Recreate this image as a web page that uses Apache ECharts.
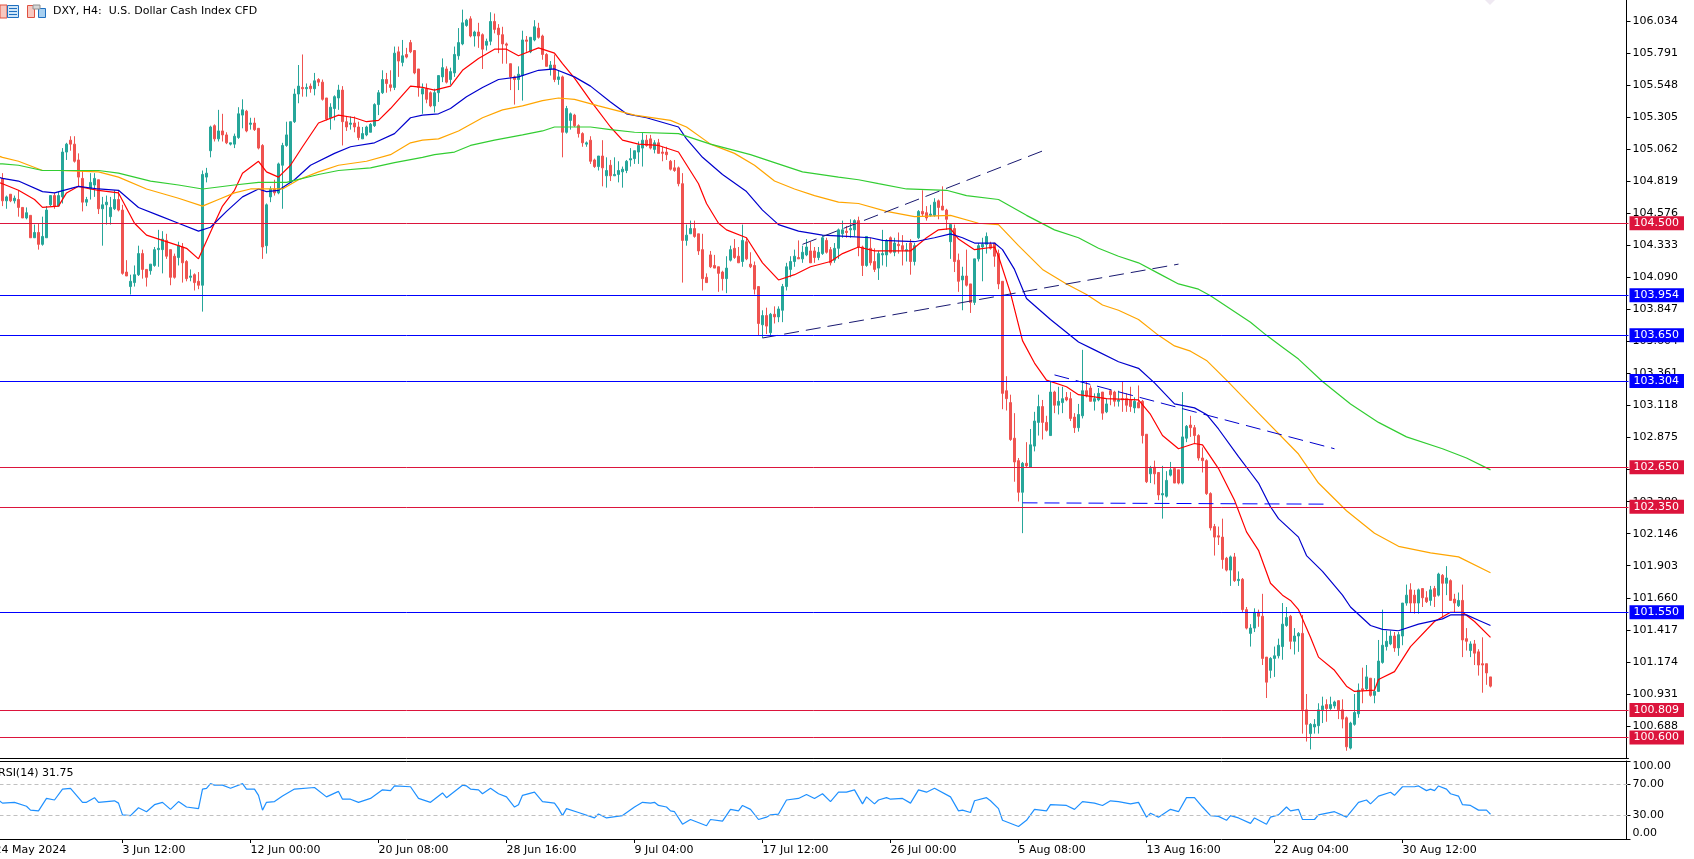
<!DOCTYPE html>
<html><head><meta charset="utf-8"><style>html,body{margin:0;padding:0;background:#fff;overflow:hidden}#c{width:1694px;height:859px}</style>
<script src="https://cdn.jsdelivr.net/npm/echarts@6/dist/echarts.min.js"></script></head><body><div id="c"></div><script>
// [open, close, low, high]
const candlesA=[[104.84,104.67,104.63,104.88],[104.67,104.70,104.61,104.71],[104.72,104.67,104.66,104.72],[104.67,104.69,104.65,104.71],[104.68,104.62,104.55,104.75],[104.62,104.54,104.54,104.62],[104.54,104.58,104.53,104.62],[104.56,104.39,104.39,104.56],[104.39,104.43,104.39,104.49],[104.43,104.34,104.30,104.50],[104.34,104.40,104.33,104.55],[104.39,104.60,104.39,104.63],[104.64,104.71,104.63,104.71],[104.71,104.63,104.61,104.73],[104.63,104.71,104.63,104.74],[104.70,105.04,104.65,105.07],[105.04,105.10,104.98,105.11],[105.13,105.10,105.05,105.16],[105.10,104.97,104.96,105.16],[104.98,104.85,104.78,105.03],[104.84,104.66,104.59,104.90],[104.66,104.68,104.63,104.70],[104.76,104.81,104.68,104.88],[104.79,104.84,104.70,104.88],[104.83,104.61,104.57,104.83],[104.61,104.64,104.33,104.70],[104.64,104.66,104.49,104.71],[104.55,104.62,104.49,104.70],[104.61,104.68,104.60,104.75],[104.68,104.60,104.59,104.75],[104.60,104.12,104.11,104.64],[104.13,104.10,104.10,104.22],[104.02,104.06,103.96,104.11],[104.05,104.11,104.02,104.18],[104.11,104.27,104.10,104.33],[104.27,104.15,104.08,104.30],[104.15,104.09,104.02,104.15],[104.14,104.19,104.11,104.19],[104.18,104.30,104.17,104.32],[104.30,104.31,104.17,104.45],[104.30,104.38,104.12,104.44],[104.37,104.25,104.23,104.42],[104.30,104.09,104.03,104.30],[104.25,104.09,104.08,104.27],[104.24,104.33,104.18,104.36],[104.32,104.20,104.05,104.35],[104.21,104.08,104.06,104.22],[104.09,104.10,104.06,104.15],[104.11,104.05,103.99,104.12],[104.06,104.03,104.00,104.13]];
const candlesB=[[104.03,104.87,103.83,104.90],[104.85,104.88,104.81,104.92],[105.05,105.23,105.00,105.24],[105.24,105.14,105.12,105.25],[105.14,105.20,105.12,105.36],[105.20,105.17,105.12,105.33],[105.17,105.11,105.10,105.19],[105.10,105.11,105.09,105.11],[105.10,105.16,105.07,105.18],[105.15,105.33,105.14,105.38],[105.32,105.36,105.22,105.44],[105.35,105.20,105.19,105.36],[105.25,105.26,105.21,105.30],[105.26,105.21,105.20,105.30],[105.22,105.07,105.06,105.22],[105.09,104.32,104.23,105.10],[104.33,104.64,104.27,104.65],[104.70,104.76,104.66,104.78],[104.76,104.73,104.71,104.83],[104.73,104.95,104.72,104.96],[104.94,105.09,104.61,105.11],[105.09,105.17,105.08,105.27],[104.81,105.27,104.81,105.27],[105.27,105.48,105.26,105.52],[105.48,105.54,105.41,105.70],[105.53,105.52,105.46,105.78],[105.52,105.53,105.46,105.56],[105.54,105.52,105.49,105.56],[105.52,105.58,105.47,105.64],[105.59,105.57,105.54,105.60],[105.57,105.44,105.43,105.59],[105.45,105.29,105.28,105.45],[105.30,105.38,105.21,105.41],[105.37,105.46,105.28,105.47],[105.45,105.51,105.36,105.55],[105.51,105.27,105.09,105.54],[105.27,105.23,105.20,105.31],[105.25,105.26,105.21,105.31],[105.26,105.23,105.19,105.31],[105.23,105.15,105.13,105.27],[105.14,105.18,105.14,105.23],[105.17,105.23,105.16,105.24],[105.19,105.25,105.19,105.26],[105.24,105.40,105.23,105.41],[105.40,105.49,105.32,105.51],[105.49,105.59,105.48,105.66],[105.59,105.56,105.49,105.64],[105.55,105.53,105.50,105.66],[105.53,105.79,105.51,105.84],[105.80,105.73,105.61,105.84]];
const candlesC=[[105.72,105.77,105.69,105.89],[105.78,105.76,105.75,105.83],[105.87,105.80,105.79,105.89],[105.81,105.64,105.63,105.81],[105.67,105.53,105.46,105.67],[105.48,105.52,105.33,105.56],[105.52,105.44,105.41,105.56],[105.49,105.39,105.38,105.50],[105.39,105.49,105.34,105.52],[105.49,105.62,105.42,105.62],[105.61,105.68,105.57,105.75],[105.67,105.57,105.56,105.69],[105.59,105.65,105.55,105.68],[105.64,105.78,105.61,105.84],[105.77,105.87,105.74,105.98],[105.86,106.02,105.85,106.12],[106.00,106.04,105.99,106.05],[106.05,105.92,105.91,106.07],[105.92,105.95,105.84,105.96],[105.95,105.92,105.83,106.02],[105.93,105.82,105.67,105.94],[105.85,105.88,105.81,105.90],[105.88,106.03,105.85,106.10],[106.03,105.97,105.94,106.09],[105.98,105.93,105.79,106.01],[105.93,105.86,105.71,105.99],[105.86,105.85,105.71,105.87],[105.71,105.61,105.51,105.71],[105.61,105.59,105.40,105.62],[105.59,105.63,105.51,105.69],[105.62,105.89,105.43,105.96],[105.89,105.88,105.80,105.92],[105.80,105.91,105.79,105.91],[105.89,105.99,105.88,106.04],[105.98,105.91,105.90,106.02],[105.92,105.78,105.74,105.93],[105.78,105.69,105.69,105.79],[105.67,105.70,105.62,105.73],[105.70,105.59,105.57,105.78],[105.59,105.61,105.55,105.66],[105.61,105.19,105.00,105.62],[105.19,105.37,105.18,105.39],[105.28,105.33,105.21,105.34],[105.32,105.24,105.23,105.33],[105.24,105.18,105.15,105.25],[105.18,105.11,105.08,105.19],[105.10,105.11,105.08,105.12],[105.13,104.97,104.95,105.16],[104.98,104.93,104.92,104.99],[104.93,105.01,104.90,105.01]];
const candlesD=[[105.01,104.92,104.78,105.13],[104.86,104.90,104.77,105.00],[104.94,104.86,104.82,104.98],[104.86,104.87,104.86,105.00],[104.87,104.90,104.81,104.97],[104.89,104.91,104.77,104.93],[104.90,104.97,104.88,104.98],[104.98,104.99,104.93,105.07],[104.99,105.05,104.95,105.05],[105.04,105.09,104.95,105.12],[105.07,105.13,104.93,105.19],[105.13,105.09,105.08,105.17],[105.14,105.07,105.06,105.17],[105.06,105.11,105.03,105.13],[105.11,105.03,105.03,105.14],[105.04,105.03,104.97,105.08],[105.04,105.02,104.98,105.08],[104.97,104.91,104.90,104.98],[104.92,104.90,104.89,104.98],[104.92,104.80,104.78,104.93],[104.80,104.37,104.05,104.88],[104.37,104.41,104.33,104.49],[104.42,104.46,104.42,104.52],[104.46,104.40,104.39,104.52],[104.42,104.29,104.26,104.42],[104.30,104.08,103.99,104.42],[104.09,104.05,104.05,104.12],[104.26,104.17,104.16,104.29],[104.18,104.16,104.16,104.26],[104.17,104.12,103.98,104.17],[104.13,104.08,103.99,104.14],[104.08,104.16,103.97,104.25],[104.22,104.30,104.21,104.33],[104.31,104.24,104.23,104.38],[104.25,104.20,104.20,104.32],[104.21,104.37,104.17,104.49],[104.36,104.23,104.22,104.39],[104.19,104.17,104.16,104.28],[104.18,104.00,103.96,104.21],[104.02,103.74,103.65,104.02],[103.73,103.80,103.63,103.84],[103.80,103.72,103.66,103.86],[103.67,103.81,103.64,103.82],[103.81,103.79,103.74,103.87],[103.79,103.85,103.75,103.87],[103.84,104.02,103.75,104.04],[104.02,104.17,103.99,104.20],[104.15,104.21,104.09,104.25],[104.21,104.25,104.17,104.30],[104.24,104.23,104.23,104.37]];
const candlesE=[[104.23,104.28,104.20,104.33],[104.26,104.32,104.25,104.38],[104.29,104.20,104.20,104.36],[104.29,104.24,104.20,104.32],[104.24,104.28,104.22,104.32],[104.27,104.39,104.26,104.41],[104.37,104.28,104.27,104.39],[104.30,104.20,104.18,104.32],[104.22,104.31,104.20,104.35],[104.31,104.45,104.23,104.46],[104.42,104.45,104.39,104.52],[104.44,104.43,104.39,104.48],[104.45,104.46,104.39,104.53],[104.45,104.52,104.40,104.53],[104.52,104.32,104.25,104.55],[104.32,104.18,104.10,104.33],[104.18,104.40,104.17,104.40],[104.31,104.20,104.18,104.39],[104.21,104.15,104.13,104.31],[104.16,104.27,104.07,104.29],[104.26,104.27,104.18,104.45],[104.26,104.37,104.17,104.38],[104.39,104.28,104.27,104.40],[104.28,104.35,104.25,104.39],[104.34,104.33,104.27,104.43],[104.33,104.30,104.18,104.41],[104.29,104.30,104.21,104.35],[104.35,104.21,104.11,104.38],[104.21,104.33,104.18,104.35],[104.39,104.59,104.38,104.60],[104.59,104.57,104.55,104.75],[104.58,104.54,104.52,104.63],[104.56,104.57,104.55,104.64],[104.56,104.66,104.55,104.69],[104.67,104.62,104.53,104.68],[104.63,104.60,104.60,104.78],[104.60,104.53,104.45,104.61],[104.36,104.49,104.23,104.49],[104.46,104.21,104.13,104.49],[104.22,104.06,103.98,104.27],[104.07,104.10,103.84,104.17],[104.10,104.03,104.02,104.30],[104.04,103.90,103.82,104.04],[103.90,104.23,103.88,104.23],[104.23,104.33,104.21,104.35],[104.32,104.34,104.06,104.39],[104.34,104.40,104.27,104.43],[104.34,104.31,104.30,104.36],[104.35,104.25,104.17,104.35],[104.27,104.04,104.00,104.30]];
const candlesF=[[104.06,103.21,103.09,104.06],[103.23,103.17,103.08,103.34],[103.14,102.86,102.85,103.20],[102.87,102.69,102.54,103.06],[102.70,102.46,102.39,102.72],[102.46,102.68,102.15,102.69],[102.68,102.66,102.65,102.84],[102.65,102.82,102.65,102.94],[102.81,103.00,102.77,103.07],[102.99,103.11,102.89,103.20],[103.11,102.99,102.86,103.16],[102.99,102.93,102.92,103.04],[102.89,103.22,102.89,103.30],[103.22,103.12,103.06,103.23],[103.12,103.15,103.05,103.26],[103.14,103.17,103.06,103.26],[103.18,103.16,103.15,103.22],[103.17,103.02,103.00,103.22],[103.03,102.95,102.91,103.06],[102.95,103.05,102.92,103.13],[103.04,103.23,103.02,103.54],[103.23,103.19,103.18,103.30],[103.25,103.15,103.15,103.27],[103.15,103.17,103.08,103.21],[103.16,103.21,103.15,103.25],[103.22,103.06,103.01,103.22],[103.07,103.13,103.06,103.17],[103.23,103.20,103.12,103.24],[103.22,103.15,103.11,103.23],[103.15,103.16,103.11,103.23],[103.17,103.16,103.07,103.30],[103.17,103.12,103.07,103.21],[103.16,103.11,103.07,103.26],[103.10,103.15,103.06,103.18],[103.14,103.10,103.10,103.27],[103.15,102.89,102.83,103.16],[102.90,102.54,102.53,102.90],[102.60,102.64,102.53,102.66],[102.65,102.60,102.52,102.70],[102.61,102.44,102.40,102.61],[102.44,102.45,102.26,102.66],[102.43,102.55,102.42,102.62],[102.59,102.63,102.58,102.69],[102.64,102.53,102.53,102.64],[102.63,102.53,102.52,102.63],[102.53,102.88,102.52,103.22],[102.87,102.96,102.84,102.97],[102.97,102.95,102.88,103.04],[102.95,102.89,102.83,102.97],[102.89,102.72,102.70,102.90]];
const candlesG=[[102.72,102.70,102.61,102.80],[102.70,102.45,102.44,102.71],[102.45,102.19,102.17,102.46],[102.20,102.12,101.98,102.22],[102.13,102.12,102.06,102.20],[102.12,101.95,101.88,102.26],[101.96,101.87,101.86,101.97],[101.87,101.97,101.75,101.98],[101.97,101.79,101.78,102.00],[101.79,101.80,101.75,101.86],[101.80,101.57,101.55,101.81],[101.57,101.43,101.42,101.59],[101.39,101.43,101.29,101.46],[101.43,101.55,101.40,101.58],[101.55,101.52,101.44,101.57],[101.52,101.20,101.15,101.69],[101.21,101.02,100.90,101.21],[101.11,101.20,101.05,101.21],[101.20,101.22,101.06,101.29],[101.22,101.30,101.20,101.35],[101.29,101.46,101.19,101.62],[101.45,101.51,101.44,101.59],[101.52,101.33,101.27,101.53],[101.33,101.37,101.23,101.43],[101.37,101.39,101.25,101.40],[101.39,100.81,100.63,101.53],[100.81,100.70,100.57,100.93],[100.63,100.70,100.51,100.71],[100.68,100.70,100.63,100.74],[100.69,100.81,100.63,100.86],[100.81,100.84,100.71,100.91],[100.85,100.82,100.72,100.89],[100.82,100.85,100.81,100.91],[100.84,100.87,100.82,100.88],[100.88,100.81,100.74,100.88],[100.81,100.74,100.67,100.89],[100.75,100.53,100.50,100.76],[100.52,100.71,100.51,100.72],[100.70,100.79,100.69,100.93],[100.78,100.96,100.75,101.01]];
const candlesH=[[100.97,100.96,100.86,101.13],[100.97,101.06,100.96,101.15],[101.05,100.92,100.91,101.05],[100.92,100.95,100.86,101.05],[100.95,101.18,100.95,101.34],[101.17,101.30,101.16,101.57],[101.29,101.33,101.26,101.41],[101.31,101.37,101.30,101.41],[101.37,101.28,101.25,101.40],[101.28,101.38,101.22,101.40],[101.37,101.62,101.30,101.62],[101.62,101.68,101.60,101.76],[101.72,101.62,101.55,101.77],[101.68,101.62,101.54,101.72],[101.62,101.72,101.54,101.73],[101.73,101.66,101.59,101.73],[101.66,101.63,101.62,101.71],[101.64,101.72,101.60,101.75],[101.73,101.67,101.59,101.75],[101.68,101.84,101.67,101.85],[101.83,101.77,101.51,101.84],[101.77,101.81,101.68,101.90],[101.79,101.64,101.64,101.80],[101.65,101.62,101.55,101.69],[101.60,101.64,101.59,101.70],[101.64,101.34,101.21,101.76],[101.35,101.33,101.26,101.43],[101.26,101.31,101.21,101.33],[101.31,101.24,101.15,101.34],[101.25,101.15,101.07,101.27],[101.16,101.15,100.94,101.36],[101.16,101.09,101.00,101.16],[101.06,100.99,100.98,101.06]];
// moving averages: [bar, price]
const maRed=[[-1,104.81],[0,104.80],[4,104.75],[8,104.68],[10,104.62],[14,104.63],[16,104.73],[19,104.78],[22,104.76],[24,104.75],[29,104.73],[33,104.50],[36,104.41],[40,104.37],[44,104.33],[46,104.31],[49,104.23],[53,104.50],[55,104.63],[58,104.75],[60,104.88],[64,104.97],[66,104.89],[69,104.85],[72,104.94],[75,105.08],[79,105.26],[84,105.32],[88,105.30],[91,105.27],[94,105.28],[97,105.37],[102,105.54],[105,105.53],[108,105.51],[112,105.54],[115,105.66],[119,105.75],[123,105.82],[126,105.82],[129,105.77],[134,105.83],[138,105.79],[140,105.71],[143,105.60],[147,105.43],[152,105.23],[155,105.13],[159,105.10],[164,105.09],[169,105.04],[174,104.80],[176,104.65],[179,104.50],[181,104.45],[186,104.39],[190,104.20],[194,104.07],[198,104.11],[202,104.17],[207,104.21],[210,104.27],[214,104.32],[218,104.29],[221,104.29],[227,104.29],[231,104.39],[234,104.45],[237,104.46],[239,104.38],[243,104.30],[248,104.32],[249,104.25],[252,103.97],[255,103.61],[258,103.44],[261,103.31],[266,103.26],[269,103.20],[276,103.17],[284,103.16],[287,103.05],[290,102.89],[294,102.79],[298,102.83],[300,102.82],[304,102.64],[308,102.40],[311,102.16],[314,102.02],[317,101.77],[320,101.68],[322,101.64],[324,101.57],[327,101.36],[329,101.21],[333,101.11],[336,100.99],[338,100.95],[343,100.96],[344,101.04],[348,101.10],[352,101.29],[358,101.48],[362,101.55],[365,101.55],[368,101.48],[372,101.36]];
const maBlue=[[-1,104.85],[0,104.84],[4,104.82],[10,104.74],[13,104.73],[19,104.78],[24,104.76],[29,104.75],[34,104.62],[39,104.56],[44,104.50],[49,104.44],[52,104.47],[56,104.59],[60,104.70],[64,104.76],[66,104.74],[69,104.75],[73,104.83],[77,104.94],[83,105.03],[87,105.08],[93,105.11],[98,105.18],[102,105.30],[105,105.32],[109,105.33],[112,105.37],[116,105.46],[120,105.53],[124,105.59],[129,105.61],[134,105.66],[138,105.67],[143,105.61],[147,105.54],[152,105.42],[156,105.33],[161,105.30],[169,105.23],[171,105.14],[175,105.00],[180,104.87],[186,104.74],[190,104.60],[194,104.49],[199,104.44],[205,104.41],[211,104.40],[217,104.39],[220,104.37],[228,104.36],[233,104.39],[237,104.42],[240,104.39],[243,104.35],[248,104.35],[250,104.30],[253,104.15],[256,103.93],[262,103.77],[269,103.60],[273,103.54],[279,103.45],[284,103.40],[288,103.29],[293,103.13],[298,103.10],[301,103.05],[304,102.94],[309,102.73],[312,102.61],[314,102.53],[317,102.35],[319,102.26],[324,102.12],[326,101.98],[330,101.86],[335,101.68],[337,101.59],[342,101.45],[345,101.42],[349,101.41],[354,101.46],[360,101.50],[362,101.53],[366,101.53],[369,101.49],[372,101.45]];
const maOrange=[[-1,105.01],[0,105.00],[4,104.97],[10,104.90],[14,104.90],[24,104.89],[29,104.85],[36,104.76],[44,104.69],[50,104.63],[54,104.68],[58,104.73],[62,104.76],[66,104.76],[70,104.76],[74,104.83],[79,104.89],[84,104.94],[91,104.97],[97,105.02],[102,105.11],[105,105.13],[109,105.14],[114,105.20],[120,105.30],[125,105.36],[130,105.39],[135,105.43],[139,105.45],[143,105.44],[149,105.39],[158,105.32],[167,105.28],[171,105.23],[177,105.10],[183,105.03],[188,104.94],[193,104.82],[198,104.76],[203,104.71],[209,104.66],[214,104.65],[221,104.59],[228,104.55],[237,104.56],[244,104.50],[249,104.49],[254,104.33],[260,104.15],[266,104.04],[271,103.96],[275,103.88],[279,103.84],[284,103.77],[289,103.65],[293,103.57],[297,103.53],[301,103.46],[306,103.31],[314,103.06],[324,102.75],[329,102.53],[336,102.32],[343,102.15],[349,102.05],[357,102.00],[364,101.97],[372,101.85]];
const maGreen=[[-1,104.95],[0,104.95],[4,104.94],[10,104.90],[24,104.90],[29,104.88],[37,104.82],[44,104.79],[50,104.76],[58,104.79],[64,104.81],[71,104.81],[79,104.87],[84,104.90],[92,104.92],[98,104.96],[105,105.00],[108,105.02],[113,105.04],[117,105.09],[123,105.13],[130,105.17],[135,105.20],[138,105.23],[147,105.23],[152,105.21],[158,105.19],[169,105.18],[177,105.10],[187,105.02],[193,104.96],[200,104.89],[209,104.85],[214,104.83],[219,104.80],[226,104.76],[236,104.75],[241,104.71],[249,104.68],[256,104.56],[263,104.45],[269,104.39],[274,104.31],[279,104.25],[284,104.20],[289,104.12],[294,104.04],[299,104.00],[302,103.95],[307,103.85],[312,103.75],[316,103.65],[320,103.56],[324,103.47],[330,103.30],[337,103.13],[344,102.99],[351,102.88],[360,102.79],[366,102.72],[372,102.63]];
const rsiLine=[[-1,50],[0,46],[3,47],[6,42],[7,37],[9,36],[11,52],[13,50],[15,64],[17,65],[20,47],[21,47],[23,53],[24,47],[28,49],[29,46],[30,31],[32,30],[34,40],[36,35],[38,44],[40,47],[42,38],[44,48],[46,41],[49,39],[50,64],[51,65],[52,71],[53,69],[55,69],[57,65],[60,71],[61,64],[63,64],[64,56],[65,37],[66,47],[68,48],[70,55],[73,64],[78,66],[81,54],[84,61],[85,51],[87,51],[89,47],[92,52],[95,63],[97,62],[98,68],[102,67],[104,52],[107,47],[110,59],[111,53],[115,69],[116,68],[117,64],[119,63],[120,58],[122,65],[124,58],[126,54],[128,41],[129,44],[130,56],[133,60],[135,48],[138,46],[139,39],[140,30],[141,39],[144,34],[148,27],[149,32],[151,27],[155,30],[158,41],[160,47],[162,46],[163,47],[164,43],[166,41],[167,36],[168,35],[170,19],[172,25],[176,17],[177,25],[180,23],[182,38],[184,36],[185,43],[187,38],[189,25],[191,28],[192,31],[194,32],[196,50],[199,52],[201,57],[203,52],[205,58],[207,48],[209,60],[211,60],[213,63],[215,45],[216,54],[218,45],[219,50],[221,53],[222,51],[225,52],[227,46],[229,63],[231,60],[233,65],[237,54],[239,36],[240,37],[242,34],[243,49],[246,53],[247,49],[249,39],[250,24],[254,16],[256,24],[258,38],[261,36],[262,44],[266,43],[268,38],[270,48],[273,46],[275,43],[277,49],[279,48],[282,45],[284,47],[286,28],[287,33],[289,28],[292,38],[294,35],[296,53],[298,53],[300,41],[302,30],[304,29],[306,24],[307,30],[309,27],[312,20],[313,27],[316,19],[317,28],[319,31],[321,41],[322,36],[324,38],[325,25],[328,25],[329,31],[333,35],[336,28],[339,47],[341,50],[342,45],[344,55],[347,60],[348,56],[350,67],[353,67],[354,68],[356,62],[357,64],[358,62],[359,68],[361,64],[362,58],[364,55],[365,44],[367,43],[369,37],[371,37],[372,31.75]];
const redLevels=[104.5,102.65,102.35,100.809,100.6];
const blueLevels=[103.954,103.65,103.304,101.55];
const priceTicks=[100.688,100.931,101.174,101.417,101.66,101.903,102.146,102.389,102.632,102.875,103.118,103.361,103.604,103.847,104.09,104.333,104.576,104.819,105.062,105.305,105.548,105.791,106.034];
const rsiTicks=[0,30,70,100];
// x labels: [bar, text]  (bar -2 lies just off the left edge)
const timeLabels=[[-2,'24 May 2024'],[30,'3 Jun 12:00'],[62,'12 Jun 00:00'],[94,'20 Jun 08:00'],[126,'28 Jun 16:00'],[158,'9 Jul 04:00'],[190,'17 Jul 12:00'],[222,'26 Jul 00:00'],[254,'5 Aug 08:00'],[286,'13 Aug 16:00'],[318,'22 Aug 04:00'],[350,'30 Aug 12:00']];
const trendRiseLow=[[190,103.63],[294,104.19]];
const trendRiseHigh=[[200,104.34],[261,105.06]];
const trendFall=[[263,103.35],[333,102.79]];
const trendFlat=[[255,102.38],[331,102.37]];

const PAD=2, SLOTS=409;
const FONT='"DejaVu Sans"';
const candles=[].concat(candlesA,candlesB,candlesC,candlesD,candlesE,candlesF,candlesG,candlesH);
const cats=new Array(SLOTS).fill('');
timeLabels.forEach(t=>{cats[t[0]+PAD]=t[1]});
const shift=a=>a.map(p=>[p[0]+PAD,p[1]]);
const maSeries=(name,data,color)=>({name,type:'line',data:shift(data),showSymbol:false,symbol:'none',silent:true,z:3,lineStyle:{color,width:1.2},animation:false});
const trend=(name,data,color)=>({name,type:'line',data:shift(data),showSymbol:false,symbol:'none',silent:true,z:4,lineStyle:{color,width:1,type:[15,7]},animation:false});
const levelItem=(v,c)=>({yAxis:v,lineStyle:{color:c,width:1,type:'solid'},label:{backgroundColor:c}});
const G=[{left:-7.5,top:0,width:1636,height:758,show:false,containLabel:false,outerBoundsMode:'none'},{left:-7.5,top:761,width:1636,height:78,show:false,containLabel:false,outerBoundsMode:'none'}];
const chart=echarts.init(document.getElementById('c'),null,{renderer:'canvas'});
chart.setOption({
 animation:false,backgroundColor:'#fff',textStyle:{fontFamily:FONT},
 grid:G,
 xAxis:[
  {type:'category',gridIndex:0,data:cats,axisLine:{show:true,lineStyle:{color:'#000',width:1}},axisTick:{show:false},axisLabel:{show:false},splitLine:{show:false}},
  {type:'category',gridIndex:1,data:cats,position:'bottom',axisLine:{show:true,lineStyle:{color:'#000',width:1}},
   axisTick:{show:true,alignWithLabel:true,length:4,interval:(i,v)=>v!=='',lineStyle:{color:'#000'}},
   axisLabel:{show:true,interval:(i,v)=>v!=='',align:'left',margin:6,color:'#000',fontSize:11,fontFamily:FONT,hideOverlap:false,showMinLabel:true},splitLine:{show:false}},
  {type:'category',gridIndex:1,data:cats,position:'top',axisLine:{show:true,onZero:false,lineStyle:{color:'#000',width:1}},axisTick:{show:false},axisLabel:{show:false}}
 ],
 yAxis:[
  {type:'value',gridIndex:0,position:'right',offset:-2,min:100.445,max:106.193,scale:true,
   axisLine:{show:true,onZero:false,lineStyle:{color:'#000',width:1}},
   axisTick:{show:true,length:4,customValues:priceTicks,lineStyle:{color:'#000'}},
   axisLabel:{show:true,customValues:priceTicks,margin:6,color:'#000',fontSize:11,fontFamily:FONT,padding:[2,0,0,0],formatter:v=>(+v).toFixed(3)},splitLine:{show:false}},
  {type:'value',gridIndex:1,position:'right',offset:-2,min:0,max:100,
   axisLine:{show:true,onZero:false,lineStyle:{color:'#000',width:1}},
   axisTick:{show:true,length:4,customValues:rsiTicks,lineStyle:{color:'#000'}},
   axisLabel:{show:true,customValues:rsiTicks,margin:6,color:'#000',fontSize:11,fontFamily:FONT,verticalAlignMinLabel:'bottom',verticalAlignMaxLabel:'top',formatter:v=>(+v).toFixed(2)},splitLine:{show:false}}
 ],
 series:[
  {name:'DXY',type:'candlestick',xAxisIndex:0,yAxisIndex:0,z:2,barWidth:3,silent:true,animation:false,
   data:candles.map((c,i)=>[i+PAD,c[0],c[1],c[2],c[3]]),encode:{x:0,y:[1,2,3,4]},
   itemStyle:{color:'#26a69a',color0:'#ef5350',borderColor:'#26a69a',borderColor0:'#ef5350',borderWidth:1}},
  maSeries('MA red',maRed,'#ff0000'),maSeries('MA blue',maBlue,'#0000cd'),maSeries('MA orange',maOrange,'#ffa500'),maSeries('MA green',maGreen,'#32cd32'),
  trend('Trend low',trendRiseLow,'#191970'),trend('Trend high',trendRiseHigh,'#191970'),trend('Trend fall',trendFall,'#0000cd'),trend('Trend flat',trendFlat,'#0000ff'),
  {name:'Levels',type:'line',data:[],z:5,silent:true,
   markLine:{silent:true,symbol:'none',animation:false,precision:3,
    label:{position:'end',distance:1,formatter:p=>(+p.value).toFixed(3),color:'#fff',fontSize:11,fontFamily:FONT,padding:[1,5,1,4],lineHeight:12},
    data:redLevels.map(v=>levelItem(v,'#dc143c')).concat(blueLevels.map(v=>levelItem(v,'#0000ff')))}},
  {name:'RSI(14)',type:'line',xAxisIndex:1,yAxisIndex:1,data:shift(rsiLine),showSymbol:false,symbol:'none',silent:true,z:3,lineStyle:{color:'#1e90ff',width:1.2},
   markLine:{silent:true,symbol:'none',animation:false,label:{show:false},lineStyle:{color:'#c0c0c0',width:1,type:[4,3]},data:[{yAxis:70},{yAxis:30}]}}
 ],
 graphic:[
  {type:'text',left:53,top:6,silent:true,style:{text:'DXY, H4:  U.S. Dollar Cash Index CFD',fill:'#000',font:'11px '+FONT}},
  {type:'text',left:-2,top:768,silent:true,style:{text:'RSI(14) 31.75',fill:'#000',font:'11px '+FONT}},
  {type:'rect',shape:{x:0,y:5,width:7,height:13},style:{fill:'#f8c8c0',stroke:'#e05040',lineWidth:1},silent:true},
  {type:'rect',shape:{x:7.5,y:5.5,width:11,height:12},style:{fill:'#cfe6f8',stroke:'#2070c0',lineWidth:1},silent:true},
  {type:'rect',shape:{x:9,y:8,width:8,height:1},style:{fill:'#2070c0'},silent:true},
  {type:'rect',shape:{x:9,y:11,width:8,height:1},style:{fill:'#2070c0'},silent:true},
  {type:'rect',shape:{x:9,y:14,width:8,height:1},style:{fill:'#2070c0'},silent:true},
  {type:'rect',shape:{x:27.5,y:5.5,width:7,height:12},style:{fill:'#f8c8c0',stroke:'#e05040',lineWidth:1},silent:true},
  {type:'rect',shape:{x:38.5,y:8.5,width:7,height:9},style:{fill:'#a8d0f0',stroke:'#2070c0',lineWidth:1},silent:true},
  {type:'rect',shape:{x:33,y:5,width:7,height:4},style:{fill:'#d8d8d8',stroke:'#909090',lineWidth:1},silent:true},
  {type:'polygon',shape:{points:[[1485,0],[1495,0],[1490,5]]},style:{fill:'#efe9f2'},silent:true}
 ]
});
</script></body></html>
